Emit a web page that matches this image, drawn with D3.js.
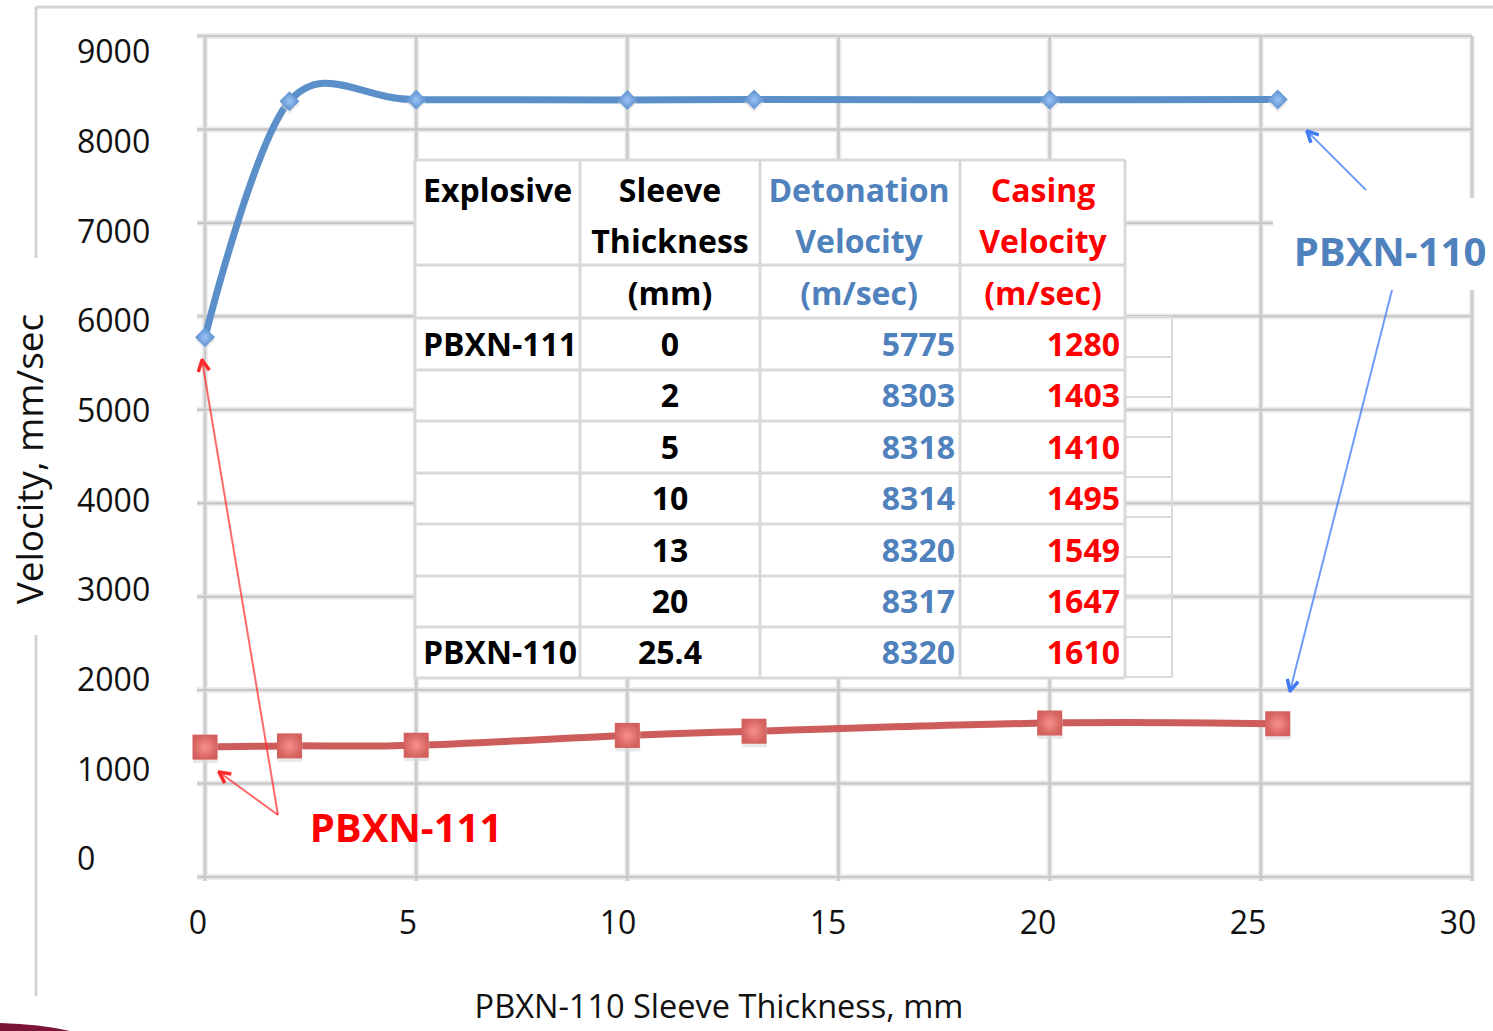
<!DOCTYPE html>
<html>
<head>
<meta charset="utf-8">
<script src="https://cdn.jsdelivr.net/npm/d3@7"></script>
<style>
  body { margin: 0; background: #fff; }
  text { font-family: "Open Sans", "Noto Sans", sans-serif; }
</style>
</head>
<body>
<div id="chart"></div>
<script>
// sleeve thickness (mm)
var thickness = [0, 2, 5, 10, 13, 20, 25.4];
// values as plotted in the chart
var detonationPlot = [5775, 8303, 8318, 8314, 8320, 8317, 8320];
var casingPlot = [1390, 1403, 1410, 1515, 1560, 1648, 1640];
// values printed in the table
var explosiveCol = ["PBXN-111", "", "", "", "", "", "PBXN-110"];
var thicknessCol = ["0", "2", "5", "10", "13", "20", "25.4"];
var detonationCol = [5775, 8303, 8318, 8314, 8320, 8317, 8320];
var casingCol = [1280, 1403, 1410, 1495, 1549, 1647, 1610];
var xTicks = [0, 5, 10, 15, 20, 25, 30];
var yTicks = [0, 1000, 2000, 3000, 4000, 5000, 6000, 7000, 8000, 9000];

var width = 1493, height = 1031;
var blue = "#5b8fc9", red = "#cd5d5b";
var tableBlue = "#4f81bd", tableRed = "#ff0000";

var svg = d3.select("#chart").append("svg")
    .attr("width", width)
    .attr("height", height);

var x = d3.scaleLinear().domain([0, 30]).range([205, 1472]);
var y = d3.scaleLinear().domain([0, 9000]).range([877, 36]);
// tick labels sit a little off the grid in the original
var xLab = d3.scaleLinear().domain([0, 30]).range([198, 1458]);
var yLab = d3.scaleLinear().domain([0, 9000]).range([859, 52]);

// outer frame
var frame = svg.append("g").attr("stroke", "#d4d4d4").attr("stroke-width", 3);
frame.append("line").attr("x1", 36).attr("x2", width).attr("y1", 7).attr("y2", 7);
frame.append("line").attr("x1", 36).attr("x2", 36).attr("y1", 7).attr("y2", 258);
frame.append("line").attr("x1", 36).attr("x2", 36).attr("y1", 635).attr("y2", 996);

// gridlines
var grid = svg.append("g");
[["#ececec", 6], ["#c9c9c9", 2.5]].forEach(function(s) {
    grid.selectAll(null).data(yTicks).join("line")
        .attr("x1", 197).attr("x2", x(30))
        .attr("y1", function(d) { return y(d); })
        .attr("y2", function(d) { return y(d); })
        .attr("stroke", s[0]).attr("stroke-width", s[1]);
    grid.selectAll(null).data(xTicks).join("line")
        .attr("x1", function(d) { return x(d); })
        .attr("x2", function(d) { return x(d); })
        .attr("y1", y(9000)).attr("y2", 881)
        .attr("stroke", s[0]).attr("stroke-width", s[1]);
});

// tick labels
svg.append("g").selectAll("text").data(yTicks).join("text")
    .attr("x", 77)
    .attr("y", function(d) { return yLab(d); })
    .attr("dy", "0.35em")
    .attr("font-size", 32)
    .attr("fill", "#111")
    .text(function(d) { return d; });

svg.append("g").selectAll("text").data(xTicks).join("text")
    .attr("x", function(d) { return xLab(d); })
    .attr("y", 923)
    .attr("dy", "0.35em")
    .attr("text-anchor", "middle")
    .attr("font-size", 32)
    .attr("fill", "#111")
    .text(function(d) { return d; });

// axis titles
svg.append("text")
    .attr("x", 719).attr("y", 1007).attr("dy", "0.35em")
    .attr("text-anchor", "middle")
    .attr("font-size", 32.5)
    .attr("fill", "#111")
    .text("PBXN-110 Sleeve Thickness, mm");

svg.append("text")
    .attr("transform", "translate(30,459) rotate(-90)")
    .attr("dy", "0.35em")
    .attr("text-anchor", "middle")
    .attr("font-size", 37)
    .attr("fill", "#111")
    .text("Velocity, mm/sec");

// series
var detPts = thickness.map(function(t, i) { return [t, detonationPlot[i]]; });
var casPts = thickness.map(function(t, i) { return [t, casingPlot[i]]; });

var line = d3.line()
    .x(function(d) { return x(d[0]); })
    .y(function(d) { return y(d[1]); })
    .curve(d3.curveCardinal);

var defs = svg.append("defs");
var rg = defs.append("radialGradient").attr("id", "sq");
rg.append("stop").attr("offset", "0%").attr("stop-color", "#f7908d");
rg.append("stop").attr("offset", "100%").attr("stop-color", "#d4605d");
var bg = defs.append("radialGradient").attr("id", "dm");
bg.append("stop").attr("offset", "0%").attr("stop-color", "#9cc4f5");
bg.append("stop").attr("offset", "100%").attr("stop-color", "#6a9ad6");

svg.append("path").datum(casPts)
    .attr("d", line)
    .attr("fill", "none")
    .attr("stroke", red)
    .attr("stroke-width", 7);

svg.append("path").datum(detPts)
    .attr("d", line)
    .attr("fill", "none")
    .attr("stroke", blue)
    .attr("stroke-width", 7);

// square markers with a soft shadow
svg.append("g").selectAll("rect").data(casPts).join("rect")
    .attr("x", function(d) { return x(d[0]) - 12; })
    .attr("y", function(d) { return y(d[1]) - 9; })
    .attr("width", 25).attr("height", 25)
    .attr("fill", "#d8d8d8").attr("opacity", 0.6);
svg.append("g").selectAll("rect").data(casPts).join("rect")
    .attr("x", function(d) { return x(d[0]) - 12.5; })
    .attr("y", function(d) { return y(d[1]) - 12.5; })
    .attr("width", 25).attr("height", 25)
    .attr("fill", "url(#sq)");

// diamond markers (rotated squares) with a faint shadow
svg.append("g").selectAll("path").data(detPts).join("path")
    .attr("transform", function(d) { return "translate(" + x(d[0]) + "," + (y(d[1]) + 3) + ") rotate(45)"; })
    .attr("d", d3.symbol().type(d3.symbolSquare).size(200))
    .attr("fill", "#dcdcdc").attr("opacity", 0.5);
svg.append("g").selectAll("path").data(detPts).join("path")
    .attr("transform", function(d) { return "translate(" + x(d[0]) + "," + y(d[1]) + ") rotate(45)"; })
    .attr("d", d3.symbol().type(d3.symbolSquare).size(200))
    .attr("fill", "url(#dm)");

// data table
var colX = [415, 580, 760, 960, 1125];
var rowY = [160, 265, 318, 370, 421, 473, 524, 576, 627, 678];
var tb = svg.append("g");
tb.append("rect")
    .attr("x", colX[0]).attr("y", rowY[0])
    .attr("width", colX[4] - colX[0]).attr("height", rowY[9] - rowY[0])
    .attr("fill", "#fff");

// ghost cells to the right of the table
var ghostY = [317, 357, 397, 437, 477, 517, 557, 597, 637, 677];
tb.selectAll(null).data(ghostY).join("line")
    .attr("x1", colX[4]).attr("x2", 1172)
    .attr("y1", function(d) { return d; }).attr("y2", function(d) { return d; })
    .attr("stroke", "#dadada").attr("stroke-width", 2);
tb.append("line").attr("x1", 1172).attr("x2", 1172).attr("y1", 317).attr("y2", 677)
    .attr("stroke", "#dadada").attr("stroke-width", 2);

tb.selectAll(null).data(rowY).join("line")
    .attr("x1", colX[0]).attr("x2", colX[4])
    .attr("y1", function(d) { return d; }).attr("y2", function(d) { return d; })
    .attr("stroke", "#d9d9d9").attr("stroke-width", 3);
tb.selectAll(null).data(colX).join("line")
    .attr("x1", function(d) { return d; }).attr("x2", function(d) { return d; })
    .attr("y1", rowY[0]).attr("y2", rowY[9])
    .attr("stroke", "#d9d9d9").attr("stroke-width", 3);

function cell(txt, cx, cy, anchor, color) {
    tb.append("text")
        .attr("x", cx).attr("y", cy).attr("dy", "0.36em")
        .attr("text-anchor", anchor)
        .attr("font-size", 32)
        .attr("font-weight", "bold")
        .attr("fill", color)
        .text(txt);
}
var hy = [190, 241, 293];
cell("Explosive", 423, hy[0], "start", "#000");
cell("Sleeve", 670, hy[0], "middle", "#000");
cell("Thickness", 670, hy[1], "middle", "#000");
cell("(mm)", 670, hy[2], "middle", "#000");
cell("Detonation", 859, hy[0], "middle", tableBlue);
cell("Velocity", 859, hy[1], "middle", tableBlue);
cell("(m/sec)", 859, hy[2], "middle", tableBlue);
cell("Casing", 1043, hy[0], "middle", tableRed);
cell("Velocity", 1043, hy[1], "middle", tableRed);
cell("(m/sec)", 1043, hy[2], "middle", tableRed);

thickness.forEach(function(t, i) {
    var cy = (rowY[i + 2] + rowY[i + 3]) / 2;
    if (explosiveCol[i]) cell(explosiveCol[i], 423, cy, "start", "#000");
    cell(thicknessCol[i], 670, cy, "middle", "#000");
    cell(detonationCol[i], 955, cy, "end", tableBlue);
    cell(casingCol[i], 1120, cy, "end", tableRed);
});

// annotations
function arrowHead(id, color) {
    defs.append("marker")
        .attr("id", id)
        .attr("viewBox", "0 0 10 10")
        .attr("refX", 9).attr("refY", 5)
        .attr("markerWidth", 7).attr("markerHeight", 7)
        .attr("orient", "auto")
        .append("path")
        .attr("d", "M1,1 L9,5 L1,9")
        .attr("fill", "none")
        .attr("stroke", color)
        .attr("stroke-width", 2.5);
}
arrowHead("ab", "#3f7cf5");
arrowHead("ar", "#ff2a2a");

svg.append("rect")
    .attr("x", 1273).attr("y", 198).attr("width", 220).attr("height", 92)
    .attr("fill", "#fff");
svg.append("text")
    .attr("x", 1390).attr("y", 252).attr("dy", "0.36em")
    .attr("text-anchor", "middle")
    .attr("font-size", 40).attr("font-weight", "bold")
    .attr("fill", tableBlue)
    .text("PBXN-110");

var blueArrows = [[1366, 190, 1307, 131], [1392, 290, 1290, 691]];
svg.append("g").selectAll("line").data(blueArrows).join("line")
    .attr("x1", function(d) { return d[0]; }).attr("y1", function(d) { return d[1]; })
    .attr("x2", function(d) { return d[2]; }).attr("y2", function(d) { return d[3]; })
    .attr("stroke", "#3f7cf5").attr("stroke-opacity", 0.75)
    .attr("stroke-width", 2)
    .attr("marker-end", "url(#ab)");

svg.append("text")
    .attr("x", 406).attr("y", 828).attr("dy", "0.36em")
    .attr("text-anchor", "middle")
    .attr("font-size", 40).attr("font-weight", "bold")
    .attr("fill", tableRed)
    .text("PBXN-111");

var redArrows = [[278, 815, 219, 772], [278, 815, 202, 360]];
svg.append("g").selectAll("line").data(redArrows).join("line")
    .attr("x1", function(d) { return d[0]; }).attr("y1", function(d) { return d[1]; })
    .attr("x2", function(d) { return d[2]; }).attr("y2", function(d) { return d[3]; })
    .attr("stroke", "#ff2a2a").attr("stroke-opacity", 0.7)
    .attr("stroke-width", 2)
    .attr("marker-end", "url(#ar)");

// slide decoration in the corner
svg.append("path")
    .attr("d", "M0,1023 Q40,1024 70,1031 L0,1031 Z")
    .attr("fill", "#7b1535");
</script>
</body>
</html>
